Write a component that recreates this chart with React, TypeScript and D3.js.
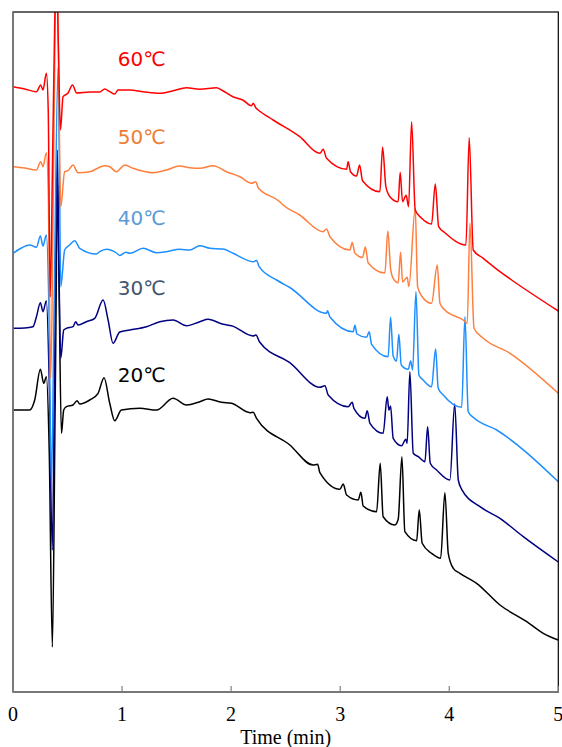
import * as d3 from 'd3';

// Chromatograms at five column temperatures (stacked, arbitrary units)
// Each point: [time (min), signal]
const trace20: [number, number][] = [
  [0, 28.2], [0.153, 28.2], [0.199, 29.2], [0.251, 32.27], [0.282, 30.87], [0.306, 31.53],
  [0.332, 24.2], [0.361, 4.5], [0.387, 29.2], [0.41, 50.7], [0.424, 39.2], [0.444, 25.87],
  [0.465, 28.2], [0.49, 28.53], [0.55, 28.7], [0.587, 29.13], [0.612, 28.8], [0.704, 29.2],
  [0.78, 29.87], [0.835, 31.43], [0.887, 28.87], [0.933, 27.13], [0.994, 28.2], [1.162, 28.37],
  [1.316, 28.2], [1.468, 29.37], [1.591, 28.7], [1.713, 29.03], [1.789, 29.3], [1.912, 28.97],
  [2.004, 28.87], [2.174, 27.93], [2.202, 27.97], [2.233, 27.37], [2.538, 24.7], [2.752, 22.7],
  [2.793, 22.77], [2.814, 21.93], [2.997, 20.27], [3.028, 20.8], [3.059, 19.7], [3.165, 19.2],
  [3.19, 19.97], [3.211, 18.6], [3.334, 18.03], [3.367, 22.87], [3.394, 17.53], [3.502, 16.7],
  [3.532, 17.27], [3.566, 23.53], [3.593, 16.03], [3.701, 15.13], [3.725, 18.2], [3.752, 14.87],
  [3.838, 13.87], [3.921, 13.37], [3.96, 19.93], [3.991, 13.87], [4.037, 12.37], [4.098, 11.87],
  [4.251, 10.87], [4.465, 8.7], [4.711, 7.03], [4.862, 5.87], [5.0, 5.2],
];

const trace30: [number, number][] = [
  [0, 36.37], [0.107, 36.4], [0.183, 36.53], [0.215, 37.53], [0.251, 38.93], [0.275, 38.03],
  [0.306, 39.13], [0.332, 31.2], [0.36, 14.2], [0.383, 34.2], [0.406, 54.2], [0.419, 44.2],
  [0.438, 33.37], [0.465, 36.2], [0.49, 36.37], [0.55, 36.53], [0.575, 37.03], [0.596, 36.7],
  [0.673, 37.03], [0.75, 37.37], [0.826, 39.2], [0.872, 37.2], [0.917, 34.87], [0.979, 36.0],
  [1.071, 36.2], [1.224, 36.53], [1.346, 37.03], [1.468, 37.2], [1.591, 36.63], [1.713, 37.03],
  [1.789, 37.27], [1.927, 36.77], [2.004, 36.63], [2.202, 35.6], [2.227, 35.7], [2.263, 34.97],
  [2.538, 32.93], [2.814, 30.47], [2.86, 30.63], [2.89, 29.7], [3.073, 28.53], [3.11, 28.97],
  [3.126, 28.37], [3.227, 27.37], [3.248, 28.13], [3.273, 26.87], [3.394, 25.87], [3.431, 29.53],
  [3.447, 28.2], [3.462, 28.6], [3.486, 25.37], [3.563, 24.63], [3.602, 25.27], [3.614, 24.87],
  [3.639, 32.03], [3.67, 23.87], [3.716, 23.53], [3.777, 23.03], [3.802, 26.53], [3.826, 22.87],
  [3.884, 22.2], [4.006, 21.2], [4.05, 28.8], [4.083, 21.2], [4.114, 20.27], [4.282, 18.53],
  [4.465, 17.37], [4.679, 15.53], [5.0, 13.0],
];

const trace40: [number, number][] = [
  [0, 43.87], [0.061, 44.3], [0.153, 44.7], [0.215, 44.47], [0.251, 45.6], [0.275, 44.6],
  [0.306, 45.7], [0.328, 39.2], [0.352, 20.9], [0.378, 39.2], [0.413, 62.4], [0.424, 54.2],
  [0.438, 40.53], [0.474, 44.2], [0.52, 44.7], [0.566, 45.13], [0.612, 44.37], [0.765, 43.8],
  [0.795, 44.03], [0.857, 44.27], [0.949, 43.9], [0.979, 43.65], [1.034, 43.97], [1.071, 43.87],
  [1.193, 44.37], [1.316, 43.93], [1.407, 44.03], [1.529, 44.27], [1.621, 44.2], [1.713, 44.63],
  [1.805, 44.37], [1.927, 44.3], [2.018, 43.87], [2.202, 43.03], [2.233, 43.15], [2.257, 42.53],
  [2.417, 41.2], [2.538, 40.45], [2.875, 37.87], [2.884, 38.13], [2.906, 37.5], [3.119, 36.03],
  [3.135, 36.67], [3.154, 35.8], [3.242, 35.47], [3.266, 36.03], [3.288, 34.77], [3.44, 33.53],
  [3.462, 37.47], [3.486, 33.6], [3.517, 33.1], [3.538, 35.77], [3.56, 32.7], [3.624, 32.27],
  [3.646, 33.1], [3.664, 32.2], [3.695, 40.03], [3.722, 31.7], [3.761, 31.2], [3.838, 30.53],
  [3.875, 34.3], [3.899, 30.37], [3.945, 29.7], [4.114, 28.47], [4.144, 37.53], [4.174, 28.03],
  [4.22, 27.47], [4.435, 26.2], [5.0, 21.03],
];

const trace50: [number, number][] = [
  [0, 52.53], [0.107, 52.4], [0.215, 52.2], [0.254, 53.03], [0.275, 52.53], [0.306, 53.93],
  [0.323, 50.2], [0.346, 31.4], [0.369, 49.2], [0.387, 67.2], [0.401, 73.2], [0.417, 63.2],
  [0.438, 48.53], [0.474, 52.03], [0.505, 52.13], [0.55, 52.7], [0.596, 51.93], [0.704, 52.03],
  [0.841, 52.63], [0.887, 52.53], [0.949, 52.03], [1.025, 52.7], [1.101, 52.37], [1.284, 51.93],
  [1.407, 52.2], [1.529, 52.6], [1.621, 52.43], [1.713, 52.37], [1.835, 52.63], [1.958, 52.03],
  [2.08, 51.53], [2.187, 50.87], [2.227, 51.03], [2.248, 50.43], [2.447, 49.03], [2.477, 48.7],
  [2.629, 47.7], [2.844, 46.03], [2.875, 46.3], [2.906, 45.53], [3.089, 44.2], [3.11, 44.95],
  [3.135, 43.9], [3.205, 43.45], [3.231, 44.5], [3.257, 42.9], [3.41, 41.9], [3.437, 46.1],
  [3.462, 42.37], [3.486, 41.37], [3.532, 40.93], [3.554, 43.97], [3.572, 41.0], [3.614, 41.47],
  [3.63, 40.53], [3.688, 48.37], [3.71, 40.53], [3.747, 39.6], [3.838, 38.87], [3.89, 42.7],
  [3.915, 38.87], [3.96, 38.2], [4.128, 37.2], [4.165, 36.87], [4.19, 46.87], [4.227, 36.37],
  [4.312, 35.37], [4.557, 33.87], [5.0, 29.87],
];

const trace60: [number, number][] = [
  [0, 60.53], [0.107, 60.3], [0.215, 60.03], [0.254, 60.7], [0.275, 60.2], [0.306, 61.87],
  [0.323, 58.2], [0.341, 39.5], [0.364, 54.2], [0.383, 67.2], [0.398, 73.2], [0.415, 65.2],
  [0.435, 56.2], [0.459, 59.53], [0.505, 59.9], [0.545, 60.7], [0.584, 59.9], [0.704, 60.0],
  [0.795, 60.0], [0.841, 60.3], [0.887, 60.03], [0.933, 59.8], [0.963, 60.2], [1.071, 60.2],
  [1.193, 60.03], [1.346, 59.87], [1.468, 60.13], [1.591, 60.43], [1.713, 60.27], [1.866, 60.43],
  [1.912, 60.2], [2.016, 59.53], [2.107, 59.2], [2.187, 58.63], [2.202, 58.87], [2.227, 58.4],
  [2.248, 58.2], [2.385, 57.2], [2.629, 55.53], [2.814, 53.87], [2.844, 54.27], [2.875, 53.37],
  [3.059, 52.27], [3.073, 53.03], [3.095, 52.03], [3.15, 51.6], [3.178, 52.7], [3.205, 51.13],
  [3.364, 50.03], [3.389, 54.47], [3.419, 50.53], [3.456, 49.53], [3.532, 49.03], [3.55, 51.97],
  [3.572, 49.03], [3.605, 49.67], [3.627, 48.53], [3.655, 57.03], [3.688, 48.2], [3.747, 47.37],
  [3.838, 46.8], [3.872, 50.8], [3.903, 46.53], [3.96, 45.93], [4.153, 44.7], [4.183, 55.43],
  [4.22, 44.2], [4.312, 43.37], [4.465, 42.03], [4.572, 41.2], [5.0, 38.1],
];

const temperatures = ['20℃', '30℃', '40℃', '50℃', '60℃'];
const traces = [trace20, trace30, trace40, trace50, trace60];
const xTicks = [0, 1, 2, 3, 4, 5];

const lineColors = ['#000000', '#000080', '#1e8fff', '#ff7f3f', '#ff0000'];
const labelColors = ['#000000', '#44546a', '#5b9bd5', '#ed7d31', '#ff0000'];

export default function App() {
  const width = 562;
  const height = 747;
  const margin = { top: 12, right: 4, bottom: 55, left: 13 };
  const plotW = 558.3 - margin.left;
  const plotH = height - margin.bottom - margin.top;

  const x = d3.scaleLinear().domain([0, 5]).range([margin.left, margin.left + plotW]);
  const y = d3.scaleLinear().domain([0, 68]).range([margin.top + plotH, margin.top]);

  const line = d3
    .line<[number, number]>()
    .x(d => x(d[0]))
    .y(d => y(d[1]))
    .curve(d3.curveMonotoneX);

  // label baselines (pixel layout), one per temperature
  const labelY = [382, 295, 225, 144, 66];
  const bottom = margin.top + plotH;

  return (
    <svg
      width={width}
      height={height}
      style={{ position: 'absolute', left: 0, top: 0, background: '#fff' }}
    >
      <defs>
        <clipPath id="plot-clip">
          <rect x={margin.left} y={margin.top} width={plotW} height={plotH} />
        </clipPath>
      </defs>

      <g clipPath="url(#plot-clip)">
        {traces.map((tr, i) => (
          <path
            key={temperatures[i]}
            d={line(tr) ?? ''}
            fill="none"
            stroke={lineColors[i]}
            strokeWidth={1.5}
            strokeLinejoin="round"
          />
        ))}
      </g>

      {temperatures.map((t, i) => (
        <text
          key={t}
          x={x(0.96)}
          y={labelY[i]}
          fill={labelColors[i]}
          fontFamily="'DejaVu Sans', sans-serif"
          fontSize={20}
        >
          {t}
        </text>
      ))}

      {/* frame */}
      <rect
        x={margin.left}
        y={margin.top}
        width={plotW}
        height={plotH}
        fill="none"
        stroke="#000"
        strokeWidth={1.2}
      />
      <line x1={margin.left} x2={margin.left} y1={margin.top} y2={bottom} stroke="#7f7f7f" strokeWidth={1.5} />
      <line x1={margin.left} x2={margin.left + plotW} y1={bottom} y2={bottom} stroke="#7f7f7f" strokeWidth={1.5} />

      {xTicks.map(t => (
        <g key={t}>
          <line x1={x(t)} x2={x(t)} y1={bottom} y2={bottom - 6} stroke="#7f7f7f" strokeWidth={1.2} />
          <text
            x={x(t)}
            y={721}
            textAnchor="middle"
            fontFamily="'Liberation Serif', serif"
            fontSize={20}
            fill="#000"
          >
            {t}
          </text>
        </g>
      ))}

      <text
        x={margin.left + plotW / 2}
        y={744}
        textAnchor="middle"
        fontFamily="'Liberation Serif', serif"
        fontSize={20}
        fill="#000"
      >
        Time (min)
      </text>
    </svg>
  );
}
